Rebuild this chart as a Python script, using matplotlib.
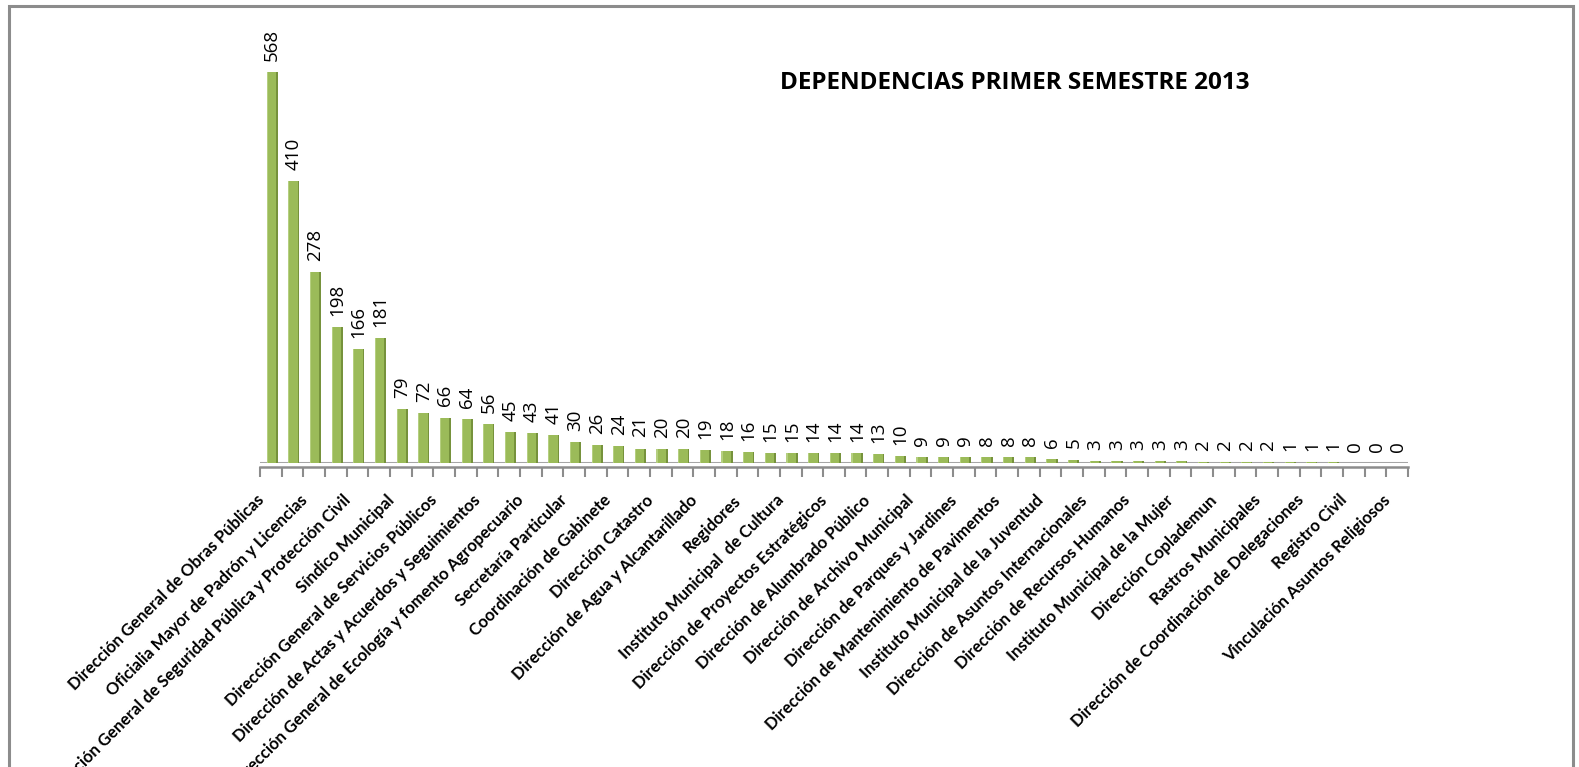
import numpy as np
import matplotlib
matplotlib.use("Agg")
import matplotlib.pyplot as plt
from matplotlib.patches import Rectangle
from matplotlib.transforms import ScaledTranslation

plt.rcParams['font.family'] = ['Lato', 'DejaVu Sans']

# values for each dependencia (53 bars, in order)
values = [568, 410, 278, 198, 166, 181, 79, 72, 66, 64, 56, 45, 43, 41, 30, 26, 24, 21,
          20, 20, 19, 18, 16, 15, 15, 14, 14, 14, 13, 10, 9, 9, 9, 8, 8, 8,
          6, 5, 3, 3, 3, 3, 3, 2, 2, 2, 2, 1, 1, 1, 0, 0, 0]

# only every other category label is shown on the axis
shown_labels = [
    "Dirección General de Obras Públicas",
    "Oficialia Mayor de Padrón y Licencias",
    "Dirección General de Seguridad Pública y Protección Civil",
    "Síndico Municipal",
    "Dirección General de Servicios Públicos",
    "Dirección de Actas y Acuerdos y Seguimientos",
    "Dirección General de Ecología y fomento Agropecuario",
    "Secretaría Particular",
    "Coordinación de Gabinete",
    "Dirección Catastro",
    "Dirección de Agua y Alcantarillado",
    "Regidores",
    "Instituto Municipal  de Cultura",
    "Dirección de Proyectos Estratégicos",
    "Dirección de Alumbrado Público",
    "Dirección de Archivo Municipal",
    "Dirección de Parques y Jardines",
    "Dirección de Mantenimiento de Pavimentos",
    "Instituto Municipal de la Juventud",
    "Dirección de Asuntos Internacionales",
    "Dirección de Recursos Humanos",
    "Instituto Municipal de la Mujer",
    "Dirección Coplademun",
    "Rastros Municipales",
    "Dirección de Coordinación de Delegaciones",
    "Registro Civil",
    "Vinculación Asuntos Religiosos",
]

title = "DEPENDENCIAS PRIMER SEMESTRE 2013"

W, H = 1579, 767
fig = plt.figure(figsize=(W / 100, H / 100), dpi=100)
ax = fig.add_axes([260 / W, (H - 463) / H, 1148 / W, 406 / H])

x = np.arange(len(values))
vals = np.array(values)

green = "#9bbb59"
dark = "#76923c"
light = "#b5cf80"

# main bar face, darker side and lighter left edge for a 3d look
ax.bar(x + 0.06, vals, width=0.5, color=green, zorder=3)
ax.bar(x + 0.28, vals, width=0.08, color=dark, zorder=4)
ax.bar(x - 0.17, vals, width=0.05, color=light, zorder=4)

for xi, v in zip(x, values):
    ax.annotate(str(v), (xi + 0.06, v), xytext=(0, 8), textcoords="offset points",
                rotation=90, ha="center", va="bottom", fontsize=13.5,
                family=["Open Sans", "DejaVu Sans"])

ax.set_xlim(-0.5, len(values) - 0.5)
ax.set_ylim(0, 590)

# floor of the chart
ax.axhline(0, color="#a6a6a6", lw=2.2, zorder=2)

for s in ["top", "right", "left"]:
    ax.spines[s].set_visible(False)
ax.spines["bottom"].set_color("#8c8c8c")
ax.spines["bottom"].set_linewidth(1.8)
ax.spines["bottom"].set_position(("data", -6))
ax.set_yticks([])

ax.set_xticks(np.arange(len(values) + 1) - 0.5, minor=True)
ax.tick_params(axis="x", which="minor", length=7, width=1.5, color="#8c8c8c")
ax.set_xticks(x[::2])
ax.set_xticklabels(shown_labels, rotation=45, ha="right", rotation_mode="anchor",
                   fontsize=12, fontweight="bold")
ax.tick_params(axis="x", which="major", length=0, pad=18)
shift = ScaledTranslation(-0.15, 0, fig.dpi_scale_trans)
for lab in ax.get_xticklabels():
    lab.set_transform(lab.get_transform() + shift)

fig.text(1015 / W, 1 - 83 / H, title, ha="center", va="center",
         fontsize=17.5, fontweight="bold", family=["Open Sans", "DejaVu Sans"])

# outer chart frame
fig.patches.append(Rectangle((9 / W, -0.05), (1573 - 9) / W, 1.05 - 6 / H,
                             transform=fig.transFigure, fill=False,
                             edgecolor="#8c8c8c", lw=2.2))

fig.savefig("out.png", dpi=100)
